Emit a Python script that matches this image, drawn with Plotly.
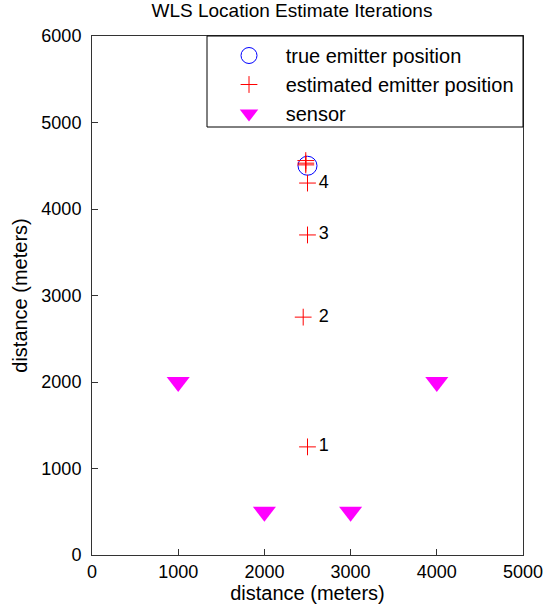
import plotly.graph_objects as go

true_x = [2500]
true_y = [4500]
est_x = [2500, 2450, 2500, 2500, 2480, 2480, 2480]
est_y = [1250, 2750, 3700, 4300, 4510, 4530, 4560]
label_text = ["1", "2", "3", "4"]
label_x = [2690, 2690, 2690, 2690]
label_y = [1250, 2750, 3700, 4300]
sensor_x = [1000, 4000, 2000, 3000]
sensor_y = [2000, 2000, 500, 500]
x_ticks = [0, 1000, 2000, 3000, 4000, 5000]
y_ticks = [0, 1000, 2000, 3000, 4000, 5000, 6000]

FONT = "Liberation Sans, Arial, sans-serif"
NB = "\u00a0" * 3

fig = go.Figure()
fig.add_trace(go.Scatter(
    x=true_x, y=true_y, mode="markers", name=NB + "true emitter position",
    marker=dict(symbol="circle-open", size=19, color="#0000ff", line=dict(width=1, color="#0000ff")),
))
fig.add_trace(go.Scatter(
    x=est_x, y=est_y, mode="markers", name=NB + "estimated emitter position",
    marker=dict(symbol="cross-thin-open", size=12, color="#ff0000", line=dict(width=1, color="#ff0000")),
))
fig.add_trace(go.Scatter(
    x=sensor_x, y=sensor_y, mode="markers", name=NB + "sensor",
    marker=dict(symbol="triangle-down", size=20, color="#ff00ff", line=dict(width=0)),
))
fig.add_trace(go.Scatter(
    x=label_x, y=label_y, mode="text", text=label_text, showlegend=False,
    textposition="middle center", textfont=dict(family=FONT, size=18, color="#000000"),
    hoverinfo="skip",
))

axis_common = dict(
    showgrid=False, zeroline=False, showline=True, linecolor="#333333", linewidth=1,
    mirror=True, ticks="inside", ticklen=6, tickcolor="#333333", automargin=False,
    tickfont=dict(family=FONT, size=18, color="#000000"),
)

fig.update_layout(
    width=545, height=613,
    margin=dict(l=92, r=22, t=36, b=58, autoexpand=False),
    paper_bgcolor="white", plot_bgcolor="white",
    title=dict(text="WLS Location Estimate Iterations", x=(292 - 92) / 431, xref="paper",
               xanchor="center", y=1, yref="container", yanchor="top", pad=dict(t=4),
               font=dict(family=FONT, size=19, color="#000000")),
    xaxis=dict(range=[0, 5000], tickvals=x_ticks, title=dict(text="distance (meters)", standoff=4,
               font=dict(family=FONT, size=20, color="#000000")), **axis_common),
    yaxis=dict(range=[0, 6000], tickvals=y_ticks, ticklabelstandoff=6,
               title=dict(text="distance (meters)", standoff=8,
                          font=dict(family=FONT, size=20, color="#000000")), **axis_common),
    legend=dict(x=1 - 4 / 431, y=1, xanchor="right", yanchor="top", xref="paper", yref="paper",
                bgcolor="rgba(0,0,0,0)", borderwidth=0,
                font=dict(family=FONT, size=20, color="#000000"), itemsizing="trace"),
    showlegend=True,
)
fig.add_shape(type="rect", xref="paper", yref="paper",
              x0=(207 - 92) / 431, x1=1, y0=(555 - 127) / 519, y1=1,
              line=dict(color="#000000", width=1), fillcolor="rgba(0,0,0,0)", layer="above")

fig.write_html("out.html")
